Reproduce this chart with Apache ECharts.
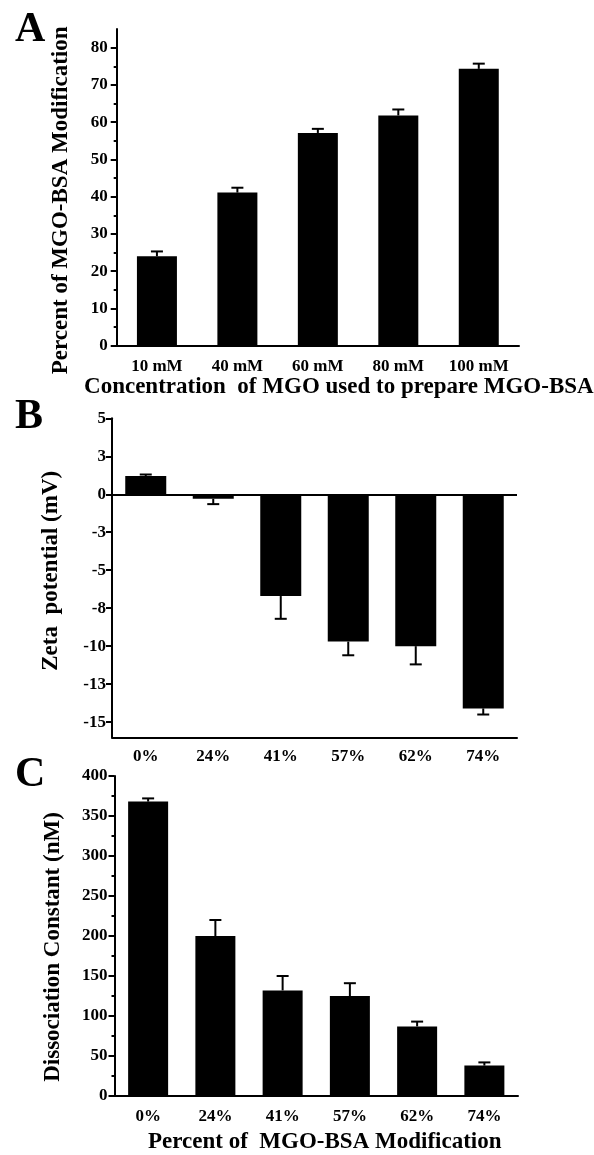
<!DOCTYPE html>
<html>
<head>
<meta charset="utf-8">
<script src="https://cdn.jsdelivr.net/npm/echarts@6/dist/echarts.min.js"></script>
<style>
  html, body { margin: 0; padding: 0; background: #fff; }
  #main { width: 594px; height: 1155px; }
</style>
</head>
<body>
<div id="main"></div>
<script>
// panel A
var concLabels = ['10 mM', '40 mM', '60 mM', '80 mM', '100 mM'];
var modPercent = [24.0, 41.1, 57.1, 61.8, 74.3];
var modErr = [1.3, 1.3, 1.1, 1.6, 1.4];
var ticksA = [0, 10, 20, 30, 40, 50, 60, 70, 80];

// panel B and C share categories
var pctLabels = ['0%', '24%', '41%', '57%', '62%', '74%'];
var zeta = [1.2, -0.3, -6.7, -9.7, -10.0, -14.1];
var zetaErr = [0.1, 0.35, 1.5, 0.9, 1.2, 0.4];
var ticksB = [5, 2.5, 0, -2.5, -5, -7.5, -10, -12.5, -15];

var kd = [368, 200, 132, 125, 87, 38];
var kdErr = [4, 20, 18, 16, 6, 4];

var FONT = '"Liberation Serif", "Times New Roman", serif';
var BLACK = '#000';

var grids = [
  { left: 116.7, top: 29, width: 402.3, height: 316.7 },
  { left: 112, top: 418.3, width: 405, height: 319 },
  { left: 114.5, top: 776, width: 403.5, height: 320 }
];

function labelStyle(extra) {
  var s = { color: BLACK, fontFamily: FONT, fontWeight: 'bold', fontSize: 17 };
  for (var k in extra) s[k] = extra[k];
  return s;
}

function mainX(grid, data, margin, name, nameGap, shift) {
  return {
    type: 'category',
    gridIndex: grid,
    data: data,
    position: 'bottom',
    axisLine: { onZero: false, lineStyle: { color: BLACK, width: 2 } },
    axisTick: { alignWithLabel: true, length: 6, lineStyle: { color: BLACK, width: 2 } },
    axisLabel: labelStyle({ margin: margin, interval: 0 }),
    splitLine: { show: false },
    name: name,
    nameLocation: 'middle',
    nameGap: nameGap,
    nameTextStyle: labelStyle({ fontSize: 23, padding: [0, 0, 0, shift] })
  };
}

// short ticks at the category borders
function borderTicks(grid, data) {
  return {
    type: 'category',
    gridIndex: grid,
    data: data,
    position: 'top',
    offset: -grids[grid].height,
    axisLine: { show: false, onZero: false },
    axisTick: { inside: true, length: 3, lineStyle: { color: BLACK, width: 2 } },
    axisLabel: { show: false },
    splitLine: { show: false }
  };
}

function errorBars(grid, vals, errs) {
  return {
    type: 'custom',
    xAxisIndex: grid,
    yAxisIndex: grid,
    z: 5,
    silent: true,
    data: vals.map(function (v, i) { return [i, v, errs[i]]; }),
    encode: { x: 0, y: 1 },
    renderItem: function (params, api) {
      var i = api.value(0);
      var v = api.value(1);
      var e = api.value(2);
      var end = v >= 0 ? v + e : v - e;
      var p0 = api.coord([i, v]);
      var p1 = api.coord([i, end]);
      var half = 6;
      var st = { stroke: BLACK, lineWidth: 2 };
      return {
        type: 'group',
        children: [
          { type: 'line', shape: { x1: p0[0], y1: p0[1], x2: p1[0], y2: p1[1] }, style: st },
          { type: 'line', shape: { x1: p1[0] - half, y1: p1[1], x2: p1[0] + half, y2: p1[1] }, style: st }
        ]
      };
    }
  };
}

var yLine = { lineStyle: { color: BLACK, width: 2 } };

var option = {
  backgroundColor: '#fff',
  animation: false,
  grid: grids.map(function (g) {
    return { left: g.left, top: g.top, width: g.width, height: g.height, outerBoundsMode: 'none' };
  }),
  graphic: [
    { type: 'text', left: 15, top: 9, style: { text: 'A', font: 'bold 42px ' + FONT, fill: BLACK } },
    { type: 'text', left: 15, top: 396, style: { text: 'B', font: 'bold 42px ' + FONT, fill: BLACK } },
    { type: 'text', left: 15, top: 754, style: { text: 'C', font: 'bold 42px ' + FONT, fill: BLACK } }
  ],
  xAxis: [
    mainX(0, concLabels, 12, 'Concentration  of MGO used to prepare MGO-BSA', 24, 42),
    mainX(1, pctLabels, 11, '', 0, 0),
    mainX(2, pctLabels, 12, 'Percent of  MGO-BSA Modification', 35, 17),
    borderTicks(0, concLabels),
    borderTicks(1, pctLabels),
    borderTicks(2, pctLabels)
  ],
  yAxis: [
    {
      type: 'value',
      gridIndex: 0,
      min: 0,
      max: 85,
      interval: 10,
      axisLine: { show: true, onZero: false, lineStyle: yLine.lineStyle },
      axisTick: { show: true, length: 6, customValues: ticksA, lineStyle: yLine.lineStyle },
      minorTick: { show: true, splitNumber: 2, length: 3, lineStyle: yLine.lineStyle },
      axisLabel: labelStyle({ margin: 9, customValues: ticksA }),
      splitLine: { show: false },
      name: 'Percent of MGO-BSA Modification',
      nameLocation: 'middle',
      nameGap: 44,
      nameTextStyle: labelStyle({ fontSize: 23, padding: [0, 26, 0, 0] })
    },
    {
      type: 'value',
      gridIndex: 1,
      min: -16,
      max: 5,
      axisLine: { show: true, onZero: false, lineStyle: yLine.lineStyle },
      axisTick: { show: true, length: 6, customValues: ticksB, lineStyle: yLine.lineStyle },
      axisLabel: labelStyle({
        margin: 6,
        customValues: ticksB,
        formatter: function (v) { return (v < 0 ? '-' : '') + Math.round(Math.abs(v)); }
      }),
      splitLine: { show: false },
      name: 'Zeta  potential (mV)',
      nameLocation: 'middle',
      nameGap: 49,
      nameTextStyle: labelStyle({ fontSize: 23, padding: [0, 0, 0, 14] })
    },
    {
      type: 'value',
      gridIndex: 2,
      min: 0,
      max: 400,
      interval: 50,
      axisLine: { show: true, onZero: false, lineStyle: yLine.lineStyle },
      axisTick: { show: true, length: 6, lineStyle: yLine.lineStyle },
      minorTick: { show: true, splitNumber: 2, length: 3, lineStyle: yLine.lineStyle },
      axisLabel: labelStyle({ margin: 7 }),
      splitLine: { show: false },
      name: 'Dissociation Constant (nM)',
      nameLocation: 'middle',
      nameGap: 50,
      nameTextStyle: labelStyle({ fontSize: 23, padding: [0, 22, 0, 0] })
    }
  ],
  series: [
    {
      type: 'bar', xAxisIndex: 0, yAxisIndex: 0, barWidth: 40,
      itemStyle: { color: BLACK }, data: modPercent
    },
    {
      type: 'bar', xAxisIndex: 1, yAxisIndex: 1, barWidth: 41,
      itemStyle: { color: BLACK }, data: zeta,
      markLine: {
        silent: true,
        symbol: ['none', 'none'],
        label: { show: false },
        lineStyle: { color: BLACK, width: 2, type: 'solid' },
        data: [{ yAxis: 0 }]
      }
    },
    {
      type: 'bar', xAxisIndex: 2, yAxisIndex: 2, barWidth: 40,
      itemStyle: { color: BLACK }, data: kd
    },
    errorBars(0, modPercent, modErr),
    errorBars(1, zeta, zetaErr),
    errorBars(2, kd, kdErr)
  ]
};

var chart = echarts.init(document.getElementById('main'), null, { renderer: 'canvas' });
chart.setOption(option);
</script>
</body>
</html>
